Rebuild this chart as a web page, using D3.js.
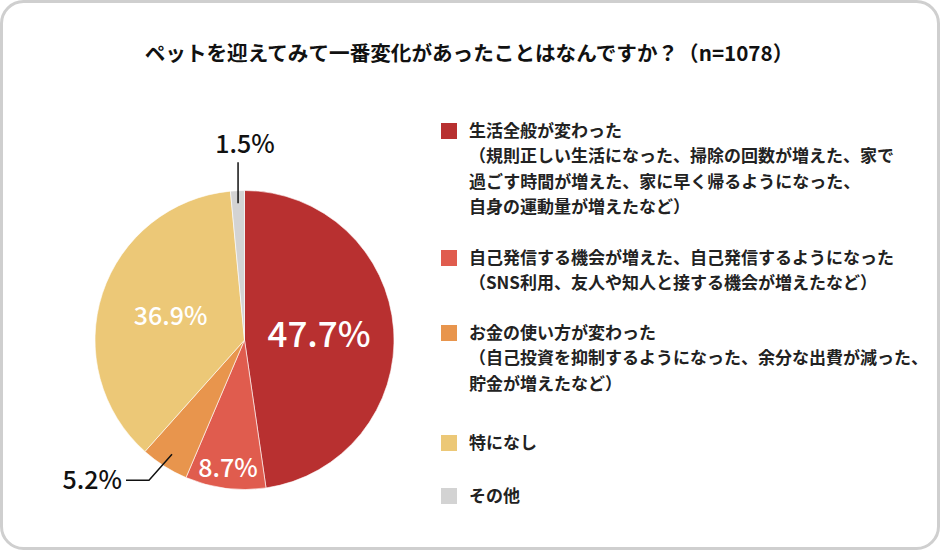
<!DOCTYPE html>
<html><head><meta charset="utf-8">
<script src="https://cdn.jsdelivr.net/npm/d3@7"></script>
<style>
html,body{margin:0;padding:0;background:#fff;}
svg{display:block;}
</style></head>
<body>
<script>
const title = "ペットを迎えてみて一番変化があったことはなんですか？（n=1078）";
const categories = ["生活全般が変わった", "自己発信する機会が増えた、自己発信するようになった", "お金の使い方が変わった", "特になし", "その他"];
const details = [
  ["（規則正しい生活になった、掃除の回数が増えた、家で", "過ごす時間が増えた、家に早く帰るようになった、", "自身の運動量が増えたなど）"],
  ["（SNS利用、友人や知人と接する機会が増えたなど）"],
  ["（自己投資を抑制するようになった、余分な出費が減った、", "貯金が増えたなど）"],
  [],
  []
];
const values = [47.7, 8.7, 5.2, 36.9, 1.5];
const palette = ["#b83030", "#e05c4e", "#e8954d", "#ecc877", "#d3d3d3"];

const W = 940, H = 551;
const svg = d3.select("body").append("svg").attr("width", W).attr("height", H);

svg.append("rect").attr("x", 1.5).attr("y", 1.5).attr("width", W - 3).attr("height", H - 4)
  .attr("rx", 22).attr("fill", "#fff").attr("stroke", "#cfcfcf").attr("stroke-width", 3);

const JP = "'Noto Sans CJK JP','Noto Sans',sans-serif";
const NUM = "'Noto Sans CJK JP','Liberation Sans',Arial,sans-serif";

svg.append("text").attr("x", 469).attr("y", 61).attr("text-anchor", "middle")
  .attr("font-family", JP).attr("font-weight", 700).attr("font-size", 20.6).attr("fill", "#111")
  .text(title);

// Pie
const cx = 244.5, cy = 340, R = 149.5;
const color = d3.scaleOrdinal().domain(categories).range(palette);
const pie = d3.pie().sort(null).value(d => d.v);
const data = pie(categories.map((c, i) => ({c, v: values[i], i})));
const arc = d3.arc().innerRadius(0).outerRadius(R);
const g = svg.append("g").attr("transform", `translate(${cx},${cy})`);
g.selectAll("path").data(data).enter().append("path")
  .attr("d", arc).attr("fill", d => color(d.data.c))
  .attr("stroke", "#fff").attr("stroke-width", 0.6);

const mid = d => (d.startAngle + d.endAngle) / 2;
const polar = (a, r) => [Math.sin(a) * r, -Math.cos(a) * r];
const fmt = v => v.toFixed(1) + "%";

// inside labels
const inside = {0: {r: 0.5, s: 35}, 1: {r: 0.86, s: 25}, 3: {r: 0.52, s: 25}};
data.forEach((d, i) => {
  if (inside[i]) {
    const p = polar(mid(d), R * inside[i].r);
    g.append("text").attr("x", p[0]).attr("y", p[1]).attr("dy", "0.36em")
      .attr("text-anchor", "middle").attr("font-family", NUM).attr("font-weight", 500)
      .attr("font-size", inside[i].s).attr("fill", "#fff").text(fmt(values[i]));
  }
});

// 5.2% leader
{
  const d = data[2];
  const p1 = polar(mid(d), R * 0.905);
  const p2 = [p1[0] - 23, p1[1] + 26];
  const p3 = [p2[0] - 23, p2[1]];
  g.append("polyline").attr("points", [p1, p2, p3].map(p => p.join(",")).join(" "))
    .attr("fill", "none").attr("stroke", "#111").attr("stroke-width", 1.5);
  g.append("text").attr("x", p3[0] - 4).attr("y", p3[1] + 8.5).attr("text-anchor", "end")
    .attr("font-family", NUM).attr("font-weight", 500).attr("font-size", 25)
    .attr("fill", "#111").text(fmt(values[2]));
}
// 1.5% leader
{
  const d = data[4];
  const p1 = polar(mid(d), R * 0.915);
  const p2 = [p1[0], p1[1] - 41];
  g.append("line").attr("x1", p1[0]).attr("y1", p1[1]).attr("x2", p2[0]).attr("y2", p2[1])
    .attr("stroke", "#111").attr("stroke-width", 1.5);
  g.append("text").attr("x", p2[0] + 7).attr("y", p2[1] - 9).attr("text-anchor", "middle")
    .attr("font-family", NUM).attr("font-weight", 500).attr("font-size", 25)
    .attr("fill", "#111").text(fmt(values[4]));
}

// Legend
const itemCenters = [131, 258, 333, 443, 496];
const lineH = 25.3;
const lg = svg.append("g");
categories.forEach((c, i) => {
  const y0 = itemCenters[i];
  lg.append("rect").attr("x", 441).attr("y", y0 - 8).attr("width", 16).attr("height", 16)
    .attr("fill", color(c));
  const lines = [c].concat(details[i]);
  lines.forEach((t, k) => {
    lg.append("text").attr("x", 469).attr("y", y0 + k * lineH + 6)
      .attr("font-family", JP).attr("font-weight", 700).attr("font-size", 17).attr("fill", "#222")
      .text(t);
  });
});
</script>
</body></html>
